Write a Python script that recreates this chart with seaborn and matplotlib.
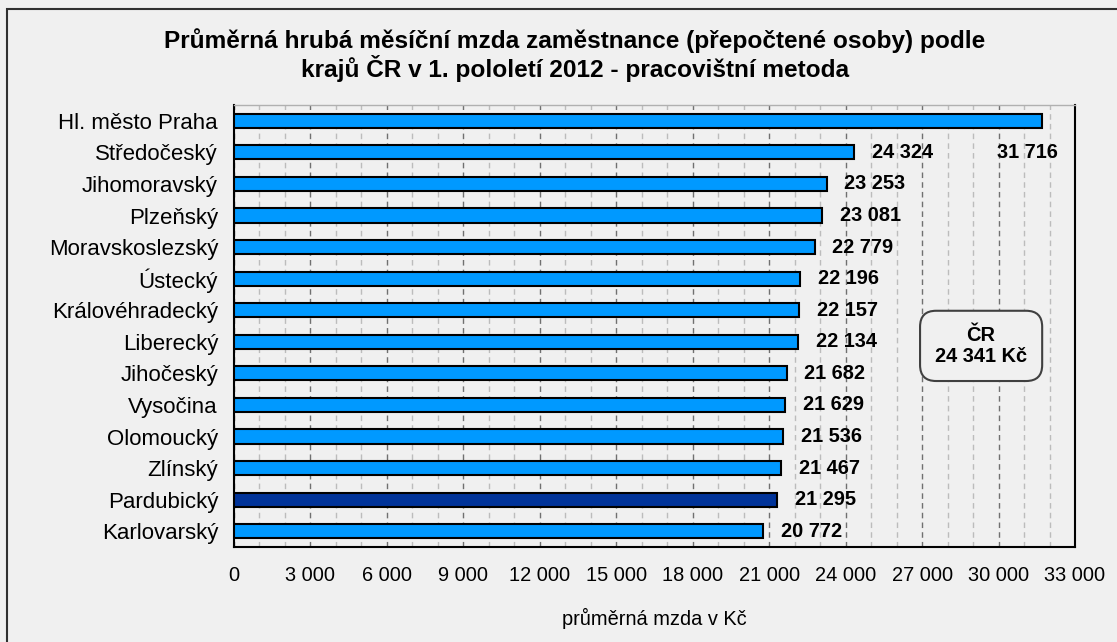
import numpy as np
import pandas as pd
import matplotlib
matplotlib.use("Agg")
import matplotlib.pyplot as plt
import seaborn as sns
from matplotlib.ticker import MultipleLocator, FuncFormatter
from matplotlib.patches import Rectangle

# data
kraje = ["Hl. město Praha", "Středočeský", "Jihomoravský", "Plzeňský", "Moravskoslezský",
         "Ústecký", "Královéhradecký", "Liberecký", "Jihočeský", "Vysočina",
         "Olomoucký", "Zlínský", "Pardubický", "Karlovarský"]
mzdy = [31716, 24324, 23253, 23081, 22779, 22196, 22157, 22134, 21682, 21629,
        21536, 21467, 21295, 20772]
zvyrazneny = "Pardubický"
cr_prumer = 24341

df = pd.DataFrame({"kraj": kraje, "mzda": mzdy})

sns.set_style("white")
plt.rcParams["font.family"] = ["Liberation Sans", "DejaVu Sans"]
for k in ["text.color", "axes.labelcolor", "xtick.color", "ytick.color"]:
    plt.rcParams[k] = "black"

bg = "#f0f0f0"
fig = plt.figure(figsize=(11.17, 6.42), dpi=100, facecolor=bg)
ax = fig.add_axes([234 / 1117, 1 - 547 / 642, (1075 - 234) / 1117, (547 - 105) / 642])
ax.set_facecolor(bg)

barvy = ["#003399" if k == zvyrazneny else "#0099ff" for k in kraje]
sns.barplot(data=df, x="mzda", y="kraj", hue="kraj", palette=barvy, legend=False,
            saturation=1, width=0.45, edgecolor="black", linewidth=1.5, ax=ax, zorder=3)

ax.set_xlim(0, 33000)
ax.set_ylim(len(kraje) - 0.5, -0.5)

fmt = FuncFormatter(lambda v, p: f"{int(v):,}".replace(",", " "))
ax.xaxis.set_major_locator(MultipleLocator(3000))
ax.xaxis.set_minor_locator(MultipleLocator(1000))
ax.xaxis.set_major_formatter(fmt)
ax.grid(axis="x", which="major", color="#707070", linestyle=(0, (4, 3)), linewidth=1, zorder=0)
ax.grid(axis="x", which="minor", color="#bcbcbc", linestyle=(0, (4, 3)), linewidth=1, zorder=0)
ax.tick_params(axis="x", which="major", direction="inout", length=8, width=1.2, labelsize=14.4, pad=10)
ax.tick_params(axis="x", which="minor", length=0)

ax.set_yticks(np.arange(len(kraje)))
ax.set_yticklabels(kraje)
ax.set_yticks(np.arange(len(kraje) + 1) - 0.5, minor=True)
ax.tick_params(axis="y", which="major", length=0, labelsize=16, pad=11.5)
ax.tick_params(axis="y", which="minor", direction="out", length=6, width=1.2)

ax.set_xlabel("průměrná mzda v Kč", fontsize=14.4, labelpad=16)
ax.set_ylabel("")

for s in ["left", "bottom", "right"]:
    ax.spines[s].set_color("black")
    ax.spines[s].set_linewidth(1.5)
ax.spines["top"].set_color("#b0b0b0")
ax.spines["top"].set_linewidth(1)

# popisky hodnot
for i, (k, m) in enumerate(zip(kraje, mzdy)):
    txt = f"{m:,}".replace(",", " ")
    if i == 0:
        ax.text(29950, 1, txt, va="center", ha="left", fontsize=14.4, fontweight="bold")
    else:
        ax.text(m + 700, i, txt, va="center", ha="left", fontsize=14.4, fontweight="bold")

# box ČR
ax.text(29316, 7.13, "ČR\n" + f"{cr_prumer:,}".replace(",", " ") + " Kč", ha="center", va="center",
        fontsize=14.4, fontweight="bold", linespacing=1.15, zorder=5,
        bbox=dict(boxstyle="round,pad=0.75,rounding_size=0.8", facecolor=bg,
                  edgecolor="#404040", linewidth=1.5))

fig.text(575 / 1117, 1 - 55 / 642,
         "Průměrná hrubá měsíční mzda zaměstnance (přepočtené osoby) podle\n"
         "krajů ČR v 1. pololetí 2012 - pracovištní metoda",
         ha="center", va="center", fontsize=17.6, fontweight="bold", linespacing=1.1)

# vnější rámeček
fig.patches.append(Rectangle((7 / 1117, -0.1), 1.2, 1 - 9 / 642 + 0.1, transform=fig.transFigure,
                             fill=False, edgecolor="#303030", linewidth=1.5))

fig.savefig("out.png", dpi=100, facecolor=bg)
